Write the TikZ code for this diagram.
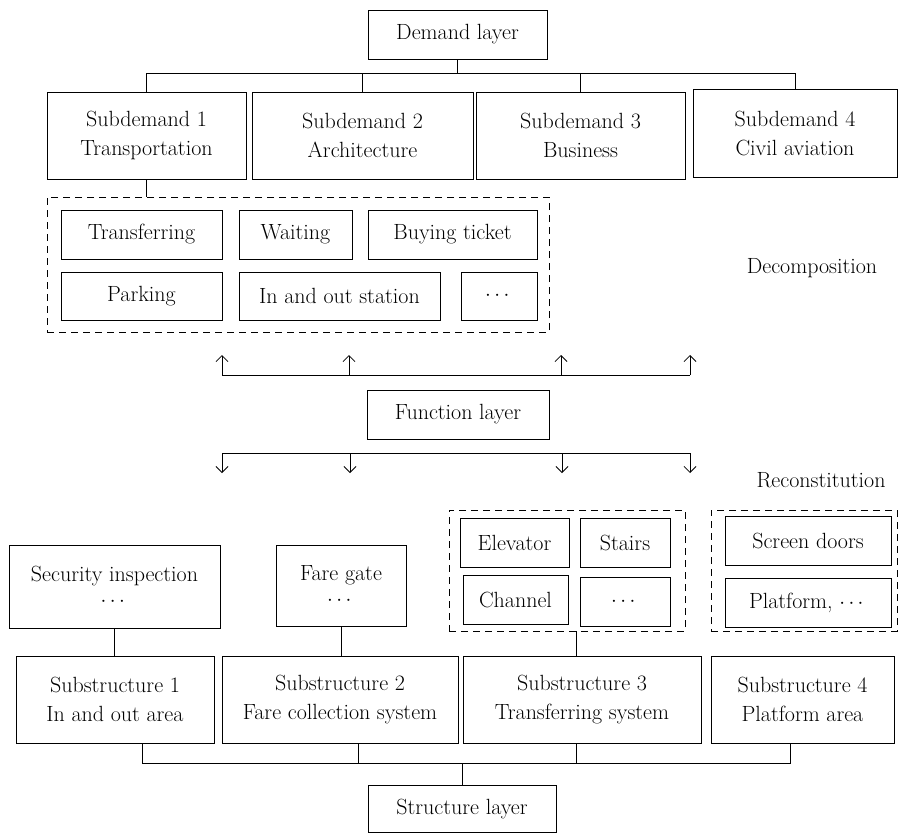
\documentclass[tikz,border=0pt]{standalone}
\usepackage{amsmath,amssymb}
\usepackage{tikz}
\usetikzlibrary{arrows.meta}

\begin{document}
\begin{tikzpicture}[x=1pt,y=-1pt,
    font=\fontsize{22}{29}\selectfont,
    box/.style={draw,line width=0.9pt,inner sep=2pt,align=center},
    group/.style={draw,line width=0.9pt,dash pattern=on 7pt off 5pt},
    link/.style={line width=0.8pt},
    arr/.style={link,-{Straight Barb[length=6pt,width=12pt]}}]
\useasboundingbox (0,0) rectangle (904,833);
% Demand layer
\node[box,minimum width=179,minimum height=49] (demand) at (457.5,34.5) {Demand layer};
\node[box,minimum width=199,minimum height=87] (sd1) at (146.5,135.5) {Subdemand 1\\Transportation};
\node[box,minimum width=221,minimum height=87] (sd2) at (362.5,135.5) {Subdemand 2\\Architecture};
\node[box,minimum width=209,minimum height=87] (sd3) at (580.5,135.5) {Subdemand 3\\Business};
\node[box,minimum width=204,minimum height=88] (sd4) at (795,133) {Subdemand 4\\Civil aviation};
\foreach \n in {sd1,sd2,sd3,sd4}
    \draw[link] (demand.south) -- ++(0,14) -| (\n.north);
% Functions of subdemand 1
\node[group,minimum width=502,minimum height=135] (dec) at (298,264.5) {};
\node[box,minimum width=161,minimum height=49] (transf) at (141.5,234.5) {Transferring};
\node[box,minimum width=113,minimum height=49] (waiting) at (295.5,234.5) {Waiting};
\node[box,minimum width=169,minimum height=49] (buying) at (452.5,234.5) {Buying ticket};
\node[box,minimum width=161,minimum height=48] (parking) at (141.5,296) {Parking};
\node[box,minimum width=201,minimum height=48] (inout) at (339.5,296) {In and out station};
\node[box,minimum width=76,minimum height=48] (moredec) at (499,296) {$\cdots$};
\draw[link] (sd1.south) -- (sd1.south |- dec.north);
\node (declabel) at (812,268) {Decomposition};
% Arrows up
\coordinate (ubar) at (222,375);
\foreach \x [count=\i] in {222,349,561,690}
    \coordinate (up\i) at (\x,355);
\draw[link] (up1 |- ubar) -- (up4 |- ubar);
\foreach \i in {1,...,4}
    \draw[arr] (up\i |- ubar) -- (up\i);
% Function layer
\node[box,minimum width=182,minimum height=49] (function) at (458,414.5) {Function layer};
% Arrows down
\coordinate (dbar) at (222,453);
\foreach \x [count=\i] in {222,350,562,690}
    \coordinate (dn\i) at (\x,473);
\draw[link] (dn1 |- dbar) -- (dn4 |- dbar);
\foreach \i in {1,...,4}
    \draw[arr] (dn\i |- dbar) -- (dn\i);
\node (reclabel) at (821,480) {Reconstitution};
% Components
\node[box,minimum width=211,minimum height=83] (security) at (114.5,586.5) {Security inspection\\[-4pt]$\cdots$};
\node[box,minimum width=130,minimum height=81] (faregate) at (341,585.5) {Fare gate\\[-4pt]$\cdots$};
\node[group,minimum width=236,minimum height=121] (grp3) at (567,570.5) {};
\node[box,minimum width=109,minimum height=49] (elevator) at (514.5,542.5) {Elevator};
\node[box,minimum width=90,minimum height=49] (stairs) at (625,542.5) {Stairs};
\node[box,minimum width=105,minimum height=49] (channel) at (515.5,599.5) {Channel};
\node[box,minimum width=90,minimum height=49] (moregrp) at (625,601.5) {$\cdots$};
\node[group,minimum width=186,minimum height=121] (grp4) at (804,570.5) {};
\node[box,minimum width=166,minimum height=49] (screen) at (808,540.5) {Screen doors};
\node[box,minimum width=166,minimum height=49] (platform) at (808,602.5) {Platform, $\cdots$};
% Structure layer
\node[box,minimum width=198,minimum height=87] (sub1) at (115,699.5) {Substructure 1\\In and out area};
\node[box,minimum width=236,minimum height=87] (sub2) at (340,699.5) {Substructure 2\\Fare collection system};
\node[box,minimum width=238,minimum height=87] (sub3) at (582,699.5) {Substructure 3\\Transferring system};
\node[box,minimum width=183,minimum height=87] (sub4) at (802.5,699.5) {Substructure 4\\Platform area};
\node[box,minimum width=188,minimum height=47] (structure) at (462,809) {Structure layer};
\draw[link] (security.south) -- (security.south |- sub1.north);
\draw[link] (faregate.south) -- (faregate.south |- sub2.north);
\draw[link] ([xshift=9pt]grp3.south) -- ([xshift=9pt]grp3.south |- sub3.north);
\foreach \n/\dx in {sub1/27,sub2/18,sub3/-6,sub4/-12.5}
    \draw[link] (structure.north) -- ++(0,-22) -| ([xshift=\dx pt]\n.south);
\end{tikzpicture}
\end{document}
